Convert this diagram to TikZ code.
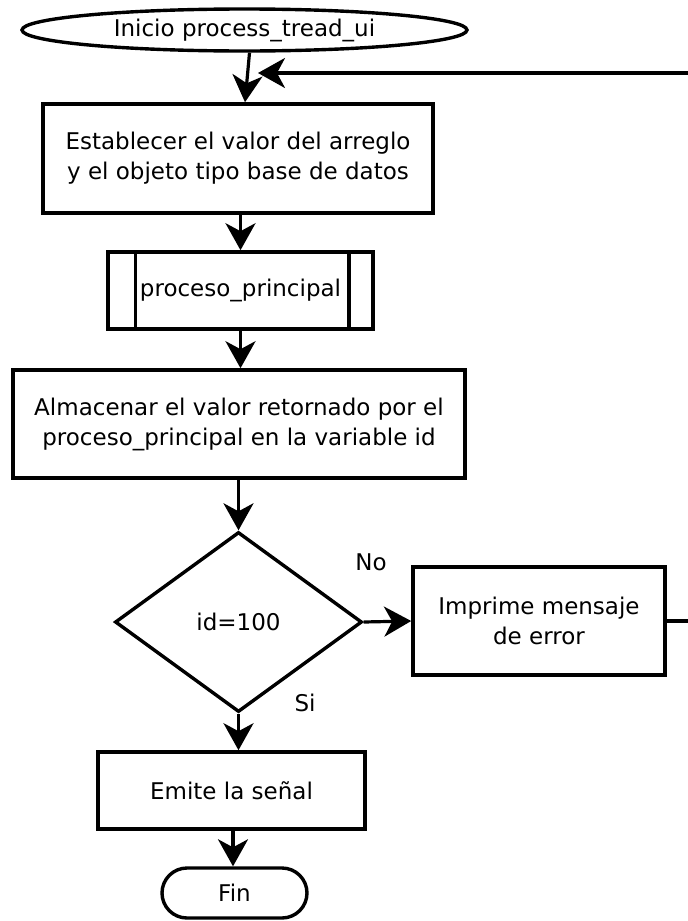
\documentclass[tikz,border=0pt]{standalone}
\usepackage{fontspec}
\setmainfont{DejaVu Sans}
\usetikzlibrary{shapes.geometric,arrows.meta}

\tikzset{
  box/.style={draw, line width=3.6pt, rectangle, inner sep=0pt, align=center},
  term/.style={draw, line width=3.4pt, inner sep=0pt, align=center},
  decision/.style={draw, line width=3.4pt, diamond, inner sep=0pt, align=center},
  flow/.style={line width=3.2pt, -{Stealth[length=27pt, width=30pt, inset=8pt]}},
  lbl/.style={inner sep=0pt}
}

\begin{document}
\begin{tikzpicture}[x=1pt, y=-1pt, font=\fontsize{23}{30}\selectfont]
  \useasboundingbox (0,0) rectangle (688,921);
  \clip (0,0) rectangle (688,921);
  \fill[white] (0,0) rectangle (688,921);

  % shapes
  \node[term, ellipse, minimum width=445pt, minimum height=42pt] (start) at (244.5,30) {Inicio process\_tread\_ui};
  \node[box, minimum width=390pt, minimum height=109pt] (est) at (238,158.5)
    {Establecer el valor del arreglo\\y el objeto tipo base de datos};
  \node[box, minimum width=265pt, minimum height=77pt] (sub) at (240.5,290.5) {proceso\_principal};
  \draw[line width=3.4pt] ([xshift=29pt]sub.north west) -- ([xshift=29pt]sub.south west);
  \draw[line width=3.4pt] ([xshift=-26pt]sub.north east) -- ([xshift=-26pt]sub.south east);
  \node[box, minimum width=452pt, minimum height=108pt] (alm) at (239,424)
    {Almacenar el valor retornado por el\\proceso\_principal en la variable id};
  \node[decision, minimum width=247pt, minimum height=180pt] (dec) at (238.5,622) {id=100};
  \node[box, minimum width=252pt, minimum height=108pt] (err) at (539,621)
    {Imprime mensaje\\de error};
  \node[box, minimum width=267pt, minimum height=77pt] (emi) at (231.5,790.5) {Emite la señal};
  \node[term, rectangle, rounded corners=25pt, minimum width=145pt, minimum height=50pt] (fin) at (234.5,893) {Fin};

  % branch labels
  \node[lbl] (lno) at (371,562) {No};
  \node[lbl] (lsi) at (305,703) {Si};

  % loop-back target
  \coordinate (back) at (258,73);
  \coordinate (rightturn) at (710,621);

  % connectors
  \draw[flow] ([xshift=5pt]start.south) -- ([xshift=7pt]est.north);
  \draw[flow] (est.south -| sub.north) -- (sub.north);
  \draw[flow] (sub.south) -- (sub.south |- alm.north);
  \draw[flow] (dec.north |- alm.south) -- (dec.north);
  \draw[flow] (dec.east) -- (err.west);
  \draw[flow] (dec.south) -- (dec.south |- emi.north);
  \draw[flow] (emi.south -| 233,0) -- (fin.north -| 233,0);
  \draw[flow] (err.east) -- (rightturn) |- (back);
\end{tikzpicture}
\end{document}
